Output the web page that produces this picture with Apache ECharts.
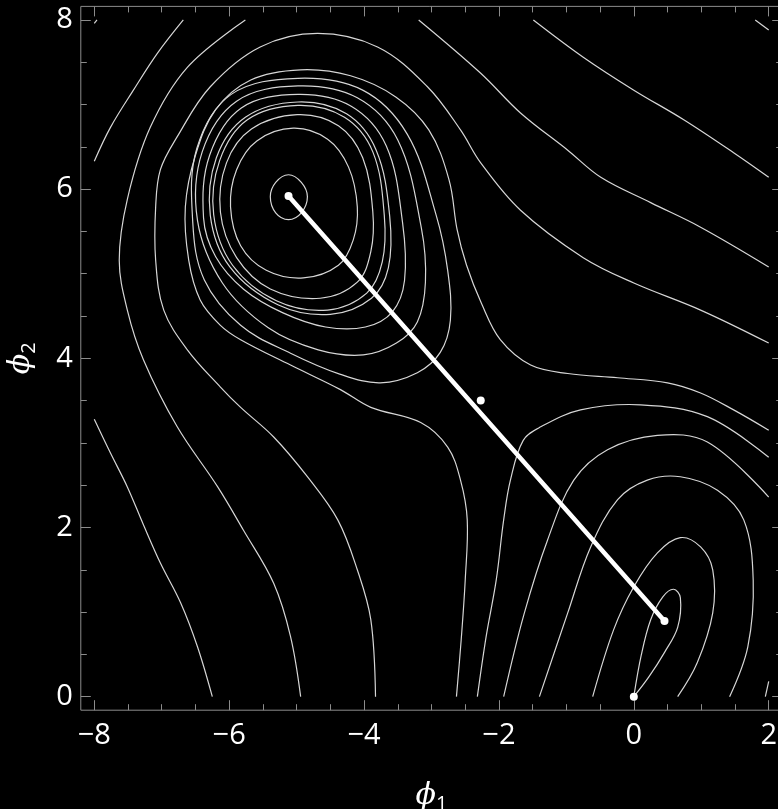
<!DOCTYPE html>
<html>
<head>
<meta charset="utf-8">
<style>
  html, body { margin: 0; padding: 0; background: #000; }
  #chart { width: 778px; height: 809px; }
</style>
<script src="https://cdn.jsdelivr.net/npm/echarts@6/dist/echarts.min.js"></script>
</head>
<body>
<div id="chart"></div>
<script>
// tick values
const xMajor = [-8, -6, -4, -2, 0, 2];
const xMinor = [-7.5, -7, -6.5, -5.5, -5, -4.5, -3.5, -3, -2.5, -1.5, -1, -0.5, 0.5, 1, 1.5];
const yMajor = [0, 2, 4, 6, 8];
const yMinor = [0.5, 1, 1.5, 2.5, 3, 3.5, 4.5, 5, 5.5, 6.5, 7, 7.5];

// closed contours round the deep minimum
const ring0 = [[-5.39,5.91],[-5.31,6.08],[-5.12,6.17],[-4.93,6.08],[-4.84,5.91],[-4.93,5.72],[-5.12,5.64],[-5.31,5.72]];
const ring1 = [[-5.98,5.79],[-5.89,6.23],[-5.59,6.57],[-5.05,6.72],[-4.54,6.59],[-4.23,6.26],[-4.10,5.79],[-4.16,5.40],[-4.38,5.10],[-4.90,4.95],[-5.45,5.04],[-5.83,5.33]];
const ring2 = [[-6.13,5.73],[-6.04,6.31],[-5.67,6.71],[-4.99,6.88],[-4.38,6.75],[-4.02,6.37],[-3.87,5.73],[-3.90,5.26],[-4.10,4.90],[-4.65,4.71],[-5.39,4.82],[-5.89,5.19]];
const ring3 = [[-6.23,5.70],[-6.14,6.34],[-5.73,6.82],[-4.98,6.99],[-4.29,6.85],[-3.87,6.44],[-3.70,5.69],[-3.73,5.14],[-3.96,4.77],[-4.54,4.57],[-5.30,4.68],[-5.95,5.10]];
const ring4 = [[-6.28,5.69],[-6.19,6.37],[-5.76,6.85],[-4.98,7.03],[-4.26,6.89],[-3.82,6.46],[-3.62,5.68],[-3.64,5.07],[-3.89,4.71],[-4.50,4.52],[-5.27,4.63],[-5.99,5.08]];
const ring5 = [[-6.38,5.66],[-6.29,6.40],[-5.82,6.96],[-4.98,7.12],[-4.19,6.98],[-3.67,6.51],[-3.43,5.61],[-3.40,4.92],[-3.58,4.55],[-3.98,4.37],[-4.57,4.37],[-5.21,4.54],[-5.79,4.82],[-6.20,5.20]];
const ring6 = [[-6.47,5.63],[-6.40,6.44],[-5.89,7.04],[-4.98,7.22],[-4.10,7.08],[-3.50,6.58],[-3.15,5.54],[-3.09,4.90],[-3.21,4.43],[-3.52,4.18],[-4.01,4.04],[-4.68,4.10],[-5.42,4.36],[-6.10,4.89]];
const ring7 = [[-6.54,5.61],[-6.48,6.48],[-5.97,7.12],[-4.98,7.31],[-4.02,7.17],[-3.36,6.65],[-2.93,5.69],[-2.76,5.04],[-2.72,4.45],[-2.87,4.07],[-3.21,3.83],[-3.76,3.71],[-4.35,3.81],[-5.09,4.06],[-5.83,4.39],[-6.37,4.93]];

// open contours that run to the edge of the plotted region
const cornerTL = [[-8.00,7.96],[-7.96,8.00]];
const cornerTR = [[1.80,8.00],[2.00,7.88]];
const cornerBR = [[1.95,0.00],[2.00,0.18]];
const arcTopLeft = [[-8.00,6.33],[-7.76,6.73],[-7.42,7.17],[-7.06,7.61],[-6.68,8.00]];
const arcLowLeft = [[-8.00,3.28],[-7.76,2.88],[-7.51,2.48],[-7.27,2.03],[-7.02,1.58],[-6.72,1.11],[-6.47,0.59],[-6.25,0.00]];
const arcWest = [[-5.76,8.00],[-6.62,7.44],[-7.17,6.73],[-7.51,5.88],[-7.63,5.16],[-7.51,4.57],[-7.27,3.98],[-6.77,3.19],[-6.17,2.48],[-5.79,1.97],[-5.34,1.34],[-5.09,0.71],[-4.94,0.00]];
const arcOuter = [[-3.83,0.00],[-3.90,0.91],[-4.10,1.50],[-4.39,2.09],[-4.84,2.60],[-5.34,3.07],[-5.83,3.42],[-6.13,3.66],[-6.62,4.10],[-6.97,4.57],[-7.09,5.16],[-7.09,5.79],[-7.02,6.23],[-6.77,6.62],[-6.28,7.21],[-5.54,7.68],[-4.69,7.84],[-3.80,7.68],[-3.06,7.21],[-2.57,6.70],[-2.27,6.31],[-1.68,5.75],[-0.75,5.19],[0.00,4.89],[0.99,4.57],[2.00,4.18]];
const arcSaddle = [[-2.63,0.00],[-2.56,0.67],[-2.50,1.38],[-2.47,2.09],[-2.57,2.56],[-2.76,2.95],[-3.16,3.24],[-3.90,3.42],[-4.35,3.63],[-5.09,3.92],[-5.83,4.22],[-6.13,4.39],[-6.43,4.69],[-6.60,5.16],[-6.65,5.79],[-6.50,6.40],[-6.20,6.94],[-5.68,7.29],[-4.94,7.41],[-4.20,7.34],[-3.53,7.09],[-3.04,6.70],[-2.74,6.11],[-2.62,5.52],[-2.48,5.10],[-2.26,4.65],[-1.98,4.22],[-1.53,3.92],[-0.98,3.82],[-0.24,3.77],[0.50,3.71],[0.99,3.59],[1.48,3.39],[2.00,3.15]];
const lineNE1 = [[-3.19,8.00],[-2.27,7.37],[-1.68,6.90],[-0.98,6.46],[-0.49,6.14],[0.25,5.84],[0.99,5.55],[2.00,5.08]];
const lineNE2 = [[-1.49,8.00],[-0.75,7.56],[0.00,7.17],[0.74,6.82],[1.48,6.43],[2.00,6.14]];
const branchSE1 = [[-2.32,0.00],[-2.19,0.71],[-2.04,1.38],[-1.93,2.09],[-1.83,2.56],[-1.64,3.03],[-1.38,3.19],[-0.79,3.39],[0.10,3.45],[1.09,3.31],[2.00,2.83]];
const branchSE2 = [[-1.93,0.00],[-1.63,0.97],[-1.28,1.85],[-0.89,2.56],[-0.39,2.92],[0.35,3.09],[1.09,3.01],[2.00,2.36]];
const loopSE1 = [[-1.40,0.00],[-0.98,0.99],[-0.64,1.77],[-0.24,2.33],[0.20,2.56],[0.69,2.60],[1.24,2.44],[1.63,2.09],[1.77,1.38],[1.69,0.59],[1.42,0.00]];
const loopSE2 = [[-0.61,0.00],[-0.30,0.79],[0.00,1.30],[0.35,1.70],[0.69,1.88],[0.99,1.77],[1.17,1.50],[1.17,0.99],[0.94,0.40],[0.65,0.00]];
const teardrop = [[0.00,0.00],[0.11,0.49],[0.25,0.91],[0.43,1.18],[0.59,1.27],[0.69,1.17],[0.65,0.82],[0.46,0.53],[0.22,0.23],[0.00,0.00]];

// path between the two minima and the marked points
const path = [[-5.12, 5.92], [0.455, 0.895]];
const marks = [[-5.12, 5.92], [0.455, 0.895], [-2.27, 3.50], [0, 0]];

const closedRings = [ring0, ring1, ring2, ring3, ring4, ring5, ring6, ring7];
const openLines = [cornerTL, cornerTR, cornerBR, arcTopLeft, arcLowLeft, arcWest, arcOuter, arcSaddle,
  lineNE1, lineNE2, branchSE1, branchSE2, loopSE1, loopSE2, teardrop];

const contours = closedRings.map(p => ({ pts: p, closed: true }))
  .concat(openLines.map(p => ({ pts: p, closed: false })));

const frameColor = '#8c8c8c';
const lineColor = '#d6d6d6';
const numFont = 'Open Sans';

function fmt(v) {
  return v < 0 ? '\u2212' + Math.abs(v) : String(v);
}

function xAxisCfg(pos, ticks, len, labels, extra) {
  return Object.assign({
    type: 'value', min: -8.2, max: 2.2, position: pos,
    axisLine: { show: false, onZero: false },
    splitLine: { show: false },
    axisTick: { show: true, inside: true, length: len, customValues: ticks,
      lineStyle: { color: frameColor, width: 1 } },
    axisLabel: labels ? { show: true, customValues: ticks, formatter: fmt, color: '#fff',
      fontSize: 29, fontFamily: numFont, margin: 11 } : { show: false }
  }, extra || {});
}

function yAxisCfg(pos, ticks, len, labels, extra) {
  return Object.assign({
    type: 'value', min: -0.16, max: 8.16, position: pos,
    axisLine: { show: false, onZero: false },
    splitLine: { show: false },
    axisTick: { show: true, inside: true, length: len, customValues: ticks,
      lineStyle: { color: frameColor, width: 1 } },
    axisLabel: labels ? { show: true, customValues: ticks, formatter: fmt, color: '#fff',
      fontSize: 29, fontFamily: numFont, margin: 8 } : { show: false }
  }, extra || {});
}

const nameRich = {
  p: { fontFamily: 'DejaVu Serif', fontStyle: 'italic', fontSize: 30, color: '#fff', lineHeight: 36 },
  s: { fontFamily: numFont, fontSize: 20, color: '#fff', lineHeight: 22, verticalAlign: 'bottom' }
};

const chart = echarts.init(document.getElementById('chart'));
chart.setOption({
  backgroundColor: '#000',
  animation: false,
  grid: { left: 80.8, top: 6.4, width: 701.4, height: 703.8, show: true,
    containLabel: false, outerBoundsMode: 'none',
    borderColor: frameColor, borderWidth: 1, backgroundColor: 'transparent' },
  xAxis: [
    xAxisCfg('bottom', xMajor, 10, true, {
      name: '{p|\u03D5}{s|1}', nameLocation: 'middle', nameGap: 68,
      nameTextStyle: { rich: nameRich }
    }),
    xAxisCfg('bottom', xMinor, 6, false),
    xAxisCfg('top', xMajor, 10, false),
    xAxisCfg('top', xMinor, 6, false)
  ],
  yAxis: [
    yAxisCfg('left', yMajor, 10, true, {
      name: '{p|\u03D5}{s|2}', nameLocation: 'middle', nameGap: 42, nameRotate: 90,
      nameTextStyle: { rich: nameRich }
    }),
    yAxisCfg('left', yMinor, 6, false),
    yAxisCfg('right', yMajor, 10, false),
    yAxisCfg('right', yMinor, 6, false)
  ],
  series: [
    {
      type: 'custom',
      xAxisIndex: 0, yAxisIndex: 0,
      clip: true,
      silent: true,
      data: contours.map(c => c.pts[0]),
      renderItem: function (params, api) {
        const c = contours[params.dataIndex];
        const pts = c.pts.map(p => api.coord(p));
        return {
          type: c.closed ? 'polygon' : 'polyline',
          shape: { points: pts, smooth: 0.36 },
          style: { fill: 'none', stroke: lineColor, lineWidth: 1.2 }
        };
      }
    },
    {
      type: 'line',
      xAxisIndex: 0, yAxisIndex: 0,
      data: path,
      symbol: 'none',
      silent: true,
      lineStyle: { color: '#fff', width: 4.5, cap: 'round' },
      z: 3
    },
    {
      type: 'scatter',
      xAxisIndex: 0, yAxisIndex: 0,
      data: marks,
      symbol: 'circle',
      symbolSize: 8,
      silent: true,
      itemStyle: { color: '#fff', opacity: 1 },
      z: 4
    }
  ]
});
</script>
</body>
</html>
